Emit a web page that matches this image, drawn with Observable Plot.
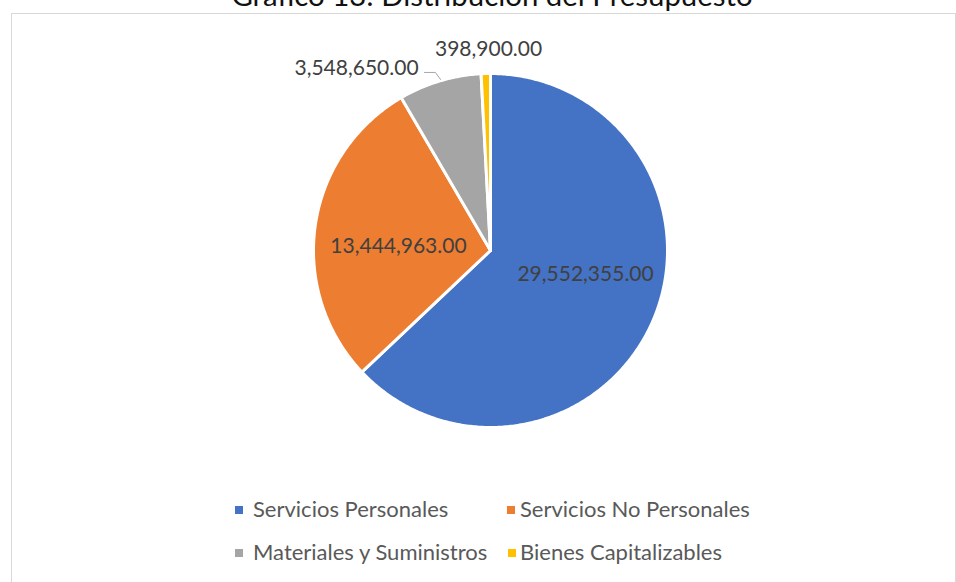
<!DOCTYPE html>
<html><head><meta charset="utf-8">
<script src="https://cdn.jsdelivr.net/npm/d3@7"></script>
<script src="https://cdn.jsdelivr.net/npm/@observablehq/plot@0.6"></script>
<style>
body{margin:0;background:#fff;}
#wrap{position:relative;width:956px;height:582px;overflow:hidden;font-family:Lato,"Open Sans",sans-serif;background:#fff;}
#frame{position:absolute;left:11px;top:13px;width:945px;height:640px;border:1px solid #d9d9d9;box-sizing:border-box;}
#title{position:absolute;left:0;width:984px;top:-20px;line-height:29px;font-size:29.4px;color:#111;text-align:center;white-space:nowrap;}
#chart{position:absolute;left:0;top:0;}
.leg{position:absolute;font-size:22px;color:#595959;line-height:22px;white-space:nowrap;}
.mk{position:absolute;width:8px;height:8px;}
</style></head><body>
<div id="wrap">
  <div id="frame"></div>
  <div id="title"></div>
  <div id="chart"></div>
  <div id="legend"></div>
</div>
<script>
const titleText = "Gráfico 13: Distribución del Presupuesto";
const categories = ["Servicios Personales","Servicios No Personales","Materiales y Suministros","Bienes Capitalizables"];
const values = [29552355, 13444963, 3548650, 398900];
const colors = ["#4472C4","#ED7D31","#A5A5A5","#FFC000"];

document.getElementById("title").textContent = titleText;

// slice geometry in unit-circle data coordinates (y up, clockwise from 12 o'clock)
const arcs = d3.pie().sort(null).value(d => d)(values);
const sliceRows = [];
arcs.forEach((a, i) => {
  const cat = categories[i];
  sliceRows.push({cat, x: 0, y: 0});
  const n = Math.max(2, Math.ceil((a.endAngle - a.startAngle) / 0.01));
  for (let k = 0; k <= n; k++) {
    const t = a.startAngle + (a.endAngle - a.startAngle) * k / n;
    sliceRows.push({cat, x: Math.sin(t), y: Math.cos(t)});
  }
});

// label placement (data units) per slice
const labelPos = [[0.537,-0.136],[-0.52,0.023],[-0.757,1.028],[-0.011,1.136]];
const fmt = d3.format(",.2f");
const labelRows = values.map((v, i) => ({x: labelPos[i][0], y: labelPos[i][1], text: fmt(v)}));
const leader = [{x:-0.373,y:1.006},{x:-0.311,y:1.006},{x:-0.282,y:0.966}];

const plot = Plot.plot({
  width: 956, height: 470,
  marginLeft: 313, marginRight: 289, marginTop: 73, marginBottom: 43,
  x: {domain: [-1, 1], axis: null},
  y: {domain: [-1, 1], axis: null},
  color: {domain: categories, range: colors},
  style: {background: "transparent", overflow: "visible"},
  marks: [
    Plot.line(sliceRows, {x: "x", y: "y", z: "cat", fill: "cat", stroke: "white", strokeWidth: 3, strokeLinejoin: "round", curve: "linear-closed"}),
    Plot.line(leader, {x: "x", y: "y", stroke: "#a6a6a6", strokeWidth: 1}),
    Plot.text(labelRows, {x: "x", y: "y", text: "text", fill: "#404040", fontSize: 21, fontFamily: "Lato, sans-serif"})
  ]
});
document.getElementById("chart").appendChild(plot);

// legend
const legendPos = [[235,253,510],[507,520,510],[235,253,553],[508,520,553]];
const legend = document.getElementById("legend");
categories.forEach((c, i) => {
  const [mx, tx, cy] = legendPos[i];
  const m = document.createElement("div");
  m.className = "mk"; m.style.left = mx + "px"; m.style.top = (cy - 4) + "px"; m.style.background = colors[i];
  legend.appendChild(m);
  const t = document.createElement("div");
  t.className = "leg"; t.style.left = tx + "px"; t.style.top = (cy - 12) + "px"; t.textContent = c;
  legend.appendChild(t);
});
</script>
</body></html>
